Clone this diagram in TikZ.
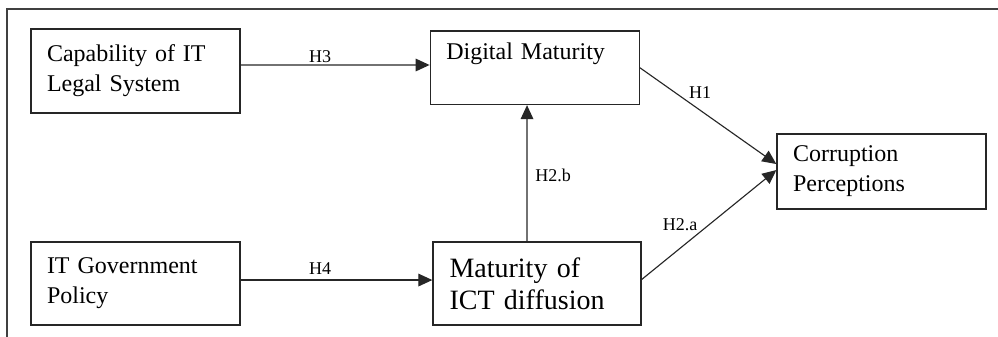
\documentclass[tikz,border=0pt]{standalone}
\usepackage{fontspec}
\setmainfont{Liberation Serif}
\usetikzlibrary{arrows.meta}
\tikzset{
  box/.style={draw=black!85, line width=1pt, inner xsep=12pt, inner ysep=0pt,
    align=left, text width=132.75pt, minimum width=156.75pt,
    font=\fontsize{18pt}{22.5pt}\selectfont},
  bigtext/.style={font=\fontsize{21pt}{24pt}\selectfont},
  lab/.style={inner sep=0pt, font=\fontsize{13.5pt}{16pt}\selectfont},
  arr/.style={draw=black!85, line width=0.85pt, -{Triangle[length=10.5pt,width=9.5pt]}},
  frame/.style={draw=black!75, line width=1.3pt},
}
\begin{document}
\begin{tikzpicture}[x=0.75pt,y=-0.75pt]
  \useasboundingbox (0,0) rectangle (998,336);
  % open outer frame
  \draw[frame] (7,340) -- (7,9) -- (1002,9);

  % construct boxes
  \node[box, minimum height=63pt]   (cap) at (135.5,71)    {Capability of IT\\Legal System};
  \node[box, minimum height=62.25pt] (gov) at (135.5,283.5) {IT Government\\Policy};
  \node[box, minimum height=55.1pt, text height=12.75pt, text depth=24.75pt]
                                     (dig) at (534.75,67.75) {Digital Maturity};
  \node[box, bigtext, minimum height=62.25pt, text width=131.25pt, minimum width=156pt]
                                     (ict) at (537,283.5)   {Maturity of\\ICT diffusion};
  \node[box, minimum height=56.25pt] (cor) at (881.5,171.5) {Corruption\\Perceptions};

  % hypothesised paths
  \draw[arr] ([yshift=4.5pt]cap.east) -- ([yshift=2.06pt]dig.west);
  \draw[arr] ([yshift=2.6pt]gov.east) -- ([yshift=2.6pt]ict.west);
  \draw[arr] ([xshift=-7.5pt]ict.north) -- ([xshift=-5.8pt]dig.south);
  \draw[arr] (dig.east) -- ([yshift=5.6pt]cor.west);
  \draw[arr] ([yshift=3pt]ict.east) -- ([yshift=1.1pt]cor.west);

  % path labels
  \node[lab] (h3)  at (320,57)  {H3};
  \node[lab] (h4)  at (320,269) {H4};
  \node[lab] (h1)  at (700,93)  {H1};
  \node[lab] (h2b) at (553,175) {H2.b};
  \node[lab] (h2a) at (680,225) {H2.a};
\end{tikzpicture}
\end{document}
